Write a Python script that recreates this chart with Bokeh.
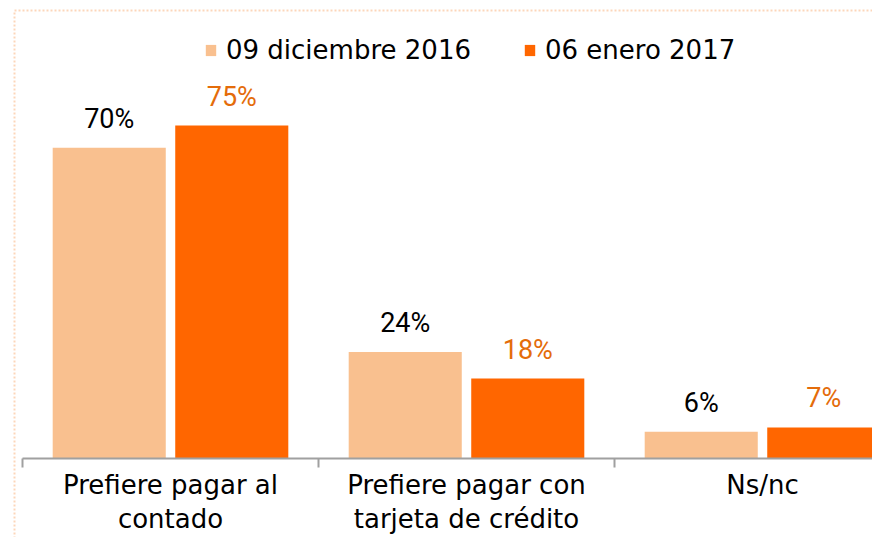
from bokeh.plotting import figure
from bokeh.models import ColumnDataSource, FixedTicker, Legend, LegendItem, Range1d, BoxAnnotation
from bokeh.transform import dodge
from bokeh.core.properties import value
from bokeh.embed import file_html
from bokeh.resources import INLINE

categories = ["Prefiere pagar al\ncontado", "Prefiere pagar con\ntarjeta de crédito", "Ns/nc"]
series_names = ["09 diciembre 2016", "06 enero 2017"]
dic_2016 = [70, 24, 6]
ene_2017 = [75, 18, 7]

light = "#F9C08F"
dark = "#FF6600"
label_orange = "#E46C0A"
border_orange = "#F5761A"

W, H = 872, 537
px_x = 296.0   # pixels per category
px_y = 4.44    # pixels per percent
x0 = -22 / px_x
y0 = -79 / px_y

centers = [i + 0.5 for i in range(len(categories))]
src = ColumnDataSource(dict(
    x=centers,
    a=dic_2016,
    b=ene_2017,
    la=[f"{v}%" for v in dic_2016],
    lb=[f"{v}%" for v in ene_2017],
))

p = figure(width=W, height=H, output_backend="svg", toolbar_location=None,
           x_range=Range1d(x0, x0 + W / px_x), y_range=Range1d(y0, y0 + H / px_y),
           min_border_left=0, min_border_right=0, min_border_top=0, min_border_bottom=0,
           y_axis_location=None)

p.outline_line_color = None
p.xgrid.visible = False
p.ygrid.visible = False

# dotted frame around the chart
p.add_layout(BoxAnnotation(left=14, top=10, right=3000, bottom=3000,
                           left_units="canvas", top_units="canvas",
                           right_units="canvas", bottom_units="canvas",
                           fill_alpha=0, line_color=border_orange, line_width=2,
                           line_dash="2 2"))

off = 0.207
w = 0.382
ra = p.vbar(x=dodge("x", -off, range=p.x_range), top="a", width=w, source=src,
            fill_color=light, line_color=None)
rb = p.vbar(x=dodge("x", off, range=p.x_range), top="b", width=w, source=src,
            fill_color=dark, line_color=None)

lab_font = value("Roboto")
p.text(x=dodge("x", -off, range=p.x_range), y="a", text="la", source=src,
       text_align="center", text_baseline="middle", y_offset=-29,
       text_font=lab_font, text_font_size="27px", text_color="black")
p.text(x=dodge("x", off, range=p.x_range), y="b", text="lb", source=src,
       text_align="center", text_baseline="middle", y_offset=-29,
       text_font=lab_font, text_font_size="27px", text_color=label_orange)

ax = p.xaxis[0]
ax.fixed_location = 0
ax.bounds = (0, 3)
ax.ticker = FixedTicker(ticks=centers, minor_ticks=[0, 1, 2, 3])
ax.major_label_overrides = {c: lab for c, lab in zip(centers, categories)}
ax.major_tick_line_color = None
ax.major_tick_out = 0
ax.major_tick_in = 0
ax.minor_tick_out = 9
ax.minor_tick_in = 0
ax.minor_tick_line_color = "#A0A0A0"
ax.minor_tick_line_width = 2
ax.axis_line_color = "#A0A0A0"
ax.axis_line_width = 2
ax.major_label_standoff = 2
ax.major_label_text_font = "DejaVu Sans"
ax.major_label_text_font_size = "26px"
ax.major_label_text_line_height = 1.15
ax.major_label_text_color = "black"

legend = Legend(items=[LegendItem(label=series_names[0], renderers=[ra]),
                       LegendItem(label=series_names[1], renderers=[rb])],
                orientation="horizontal", location=(204, 472))
legend.label_text_font = "DejaVu Sans"
legend.label_text_font_size = "26px"
legend.label_text_color = "black"
legend.glyph_width = 13
legend.glyph_height = 14
legend.label_standoff = 9
legend.spacing = 52
legend.padding = 0
legend.margin = 0
legend.border_line_color = None
legend.background_fill_alpha = 0
legend.label_height = 30
p.add_layout(legend)

open("out.html", "w").write(file_html(p, INLINE))
